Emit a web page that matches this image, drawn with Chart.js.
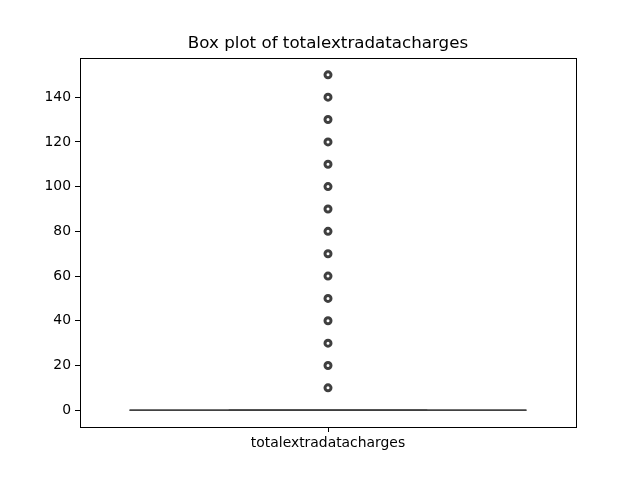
<!DOCTYPE html>
<html>
<head>
<meta charset="utf-8">
<script src="https://cdn.jsdelivr.net/npm/chart.js@4.4.1/dist/chart.umd.min.js"></script>
<style>
html,body{margin:0;padding:0;background:#fff;}
canvas{display:block;}
</style>
</head>
<body>
<canvas id="c" width="640" height="480"></canvas>
<script>
const categories = ['totalextradatacharges'];
const boxQ1 = [0];
const boxMedian = [0];
const boxQ3 = [0];
const whiskerLow = [0];
const whiskerHigh = [0];
const outliers = [10, 20, 30, 40, 50, 60, 70, 80, 90, 100, 110, 120, 130, 140, 150];
const yTicks = [0, 20, 40, 60, 80, 100, 120, 140];

const BOX_HALF = 0.4, CAP_HALF = 0.2;
const lineColor = 'rgba(63,63,63,0.72)';
const datasets = [];
categories.forEach((c, i) => {
  const seg = (x1, y1, x2, y2) => datasets.push({
    data: [{x: x1, y: y1}, {x: x2, y: y2}],
    showLine: true, pointRadius: 0, borderColor: lineColor, borderWidth: 1.5, fill: false
  });
  seg(i - BOX_HALF, boxQ1[i], i + BOX_HALF, boxQ1[i]);
  seg(i - BOX_HALF, boxQ3[i], i + BOX_HALF, boxQ3[i]);
  seg(i - BOX_HALF, boxQ1[i], i - BOX_HALF, boxQ3[i]);
  seg(i + BOX_HALF, boxQ1[i], i + BOX_HALF, boxQ3[i]);
  seg(i - BOX_HALF, boxMedian[i], i + BOX_HALF, boxMedian[i]);
  seg(i, boxQ1[i], i, whiskerLow[i]);
  seg(i, boxQ3[i], i, whiskerHigh[i]);
  seg(i - CAP_HALF, whiskerLow[i], i + CAP_HALF, whiskerLow[i]);
  seg(i - CAP_HALF, whiskerHigh[i], i + CAP_HALF, whiskerHigh[i]);
  datasets.push({
    data: outliers.map(v => ({x: i, y: v})),
    showLine: false, pointRadius: 3, pointHoverRadius: 3,
    pointBorderWidth: 3, pointBorderColor: '#3f3f3f', pointBackgroundColor: '#ffffff'
  });
});

const frame = {
  id: 'frame',
  afterLayout(chart) {
    const t = chart.titleBlock, a = chart.chartArea;
    if (t) { t.left = a.left; t.right = a.right; t.width = a.right - a.left; }
  },
  afterDraw(chart) {
    const a = chart.chartArea, ctx = chart.ctx;
    ctx.save();
    ctx.strokeStyle = '#000';
    ctx.lineWidth = 1;
    ctx.strokeRect(Math.round(a.left) + 0.5, Math.round(a.top) + 0.5,
                   Math.round(a.right - a.left), Math.round(a.bottom - a.top));
    ctx.restore();
  }
};

const font = {family: 'DejaVu Sans', size: 13.9};
new Chart(document.getElementById('c'), {
  type: 'scatter',
  data: {datasets},
  plugins: [frame],
  options: {
    responsive: false,
    animation: false,
    devicePixelRatio: 1,
    layout: {padding: {left: 0, right: 64, top: 0, bottom: 0}},
    plugins: {
      legend: {display: false},
      tooltip: {enabled: false},
      title: {
        display: true,
        text: 'Box plot of ' + categories[0],
        color: '#000',
        font: {family: 'DejaVu Sans', size: 16.7, weight: 'normal'},
        padding: {top: 34, bottom: 4}
      }
    },
    scales: {
      x: {
        type: 'linear',
        min: -0.5, max: categories.length - 0.5,
        afterBuildTicks: s => { s.ticks = categories.map((c, i) => ({value: i})); },
        afterFit: s => { s.height = 53; },
        ticks: {
          color: '#000', font, padding: 3,
          callback: v => categories[v] !== undefined ? categories[v] : ''
        },
        grid: {drawOnChartArea: false, color: '#000', tickLength: 5, tickWidth: 1},
        border: {display: false}
      },
      y: {
        type: 'linear',
        min: -7.5, max: 157.5,
        afterBuildTicks: s => { s.ticks = yTicks.map(v => ({value: v})); },
        afterFit: s => { s.width = 80; },
        ticks: {color: '#000', font, padding: 4},
        grid: {drawOnChartArea: false, color: '#000', tickLength: 5, tickWidth: 1},
        border: {display: false}
      }
    }
  }
});
</script>
</body>
</html>
